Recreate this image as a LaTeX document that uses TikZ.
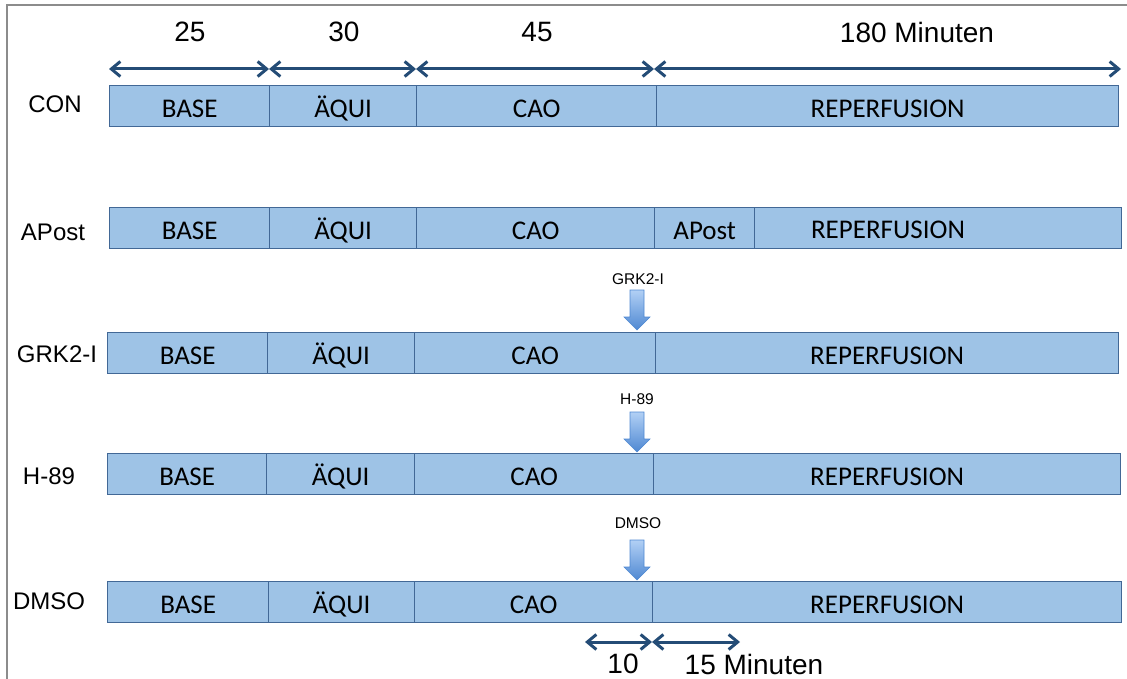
\documentclass[tikz,border=0pt]{standalone}
\usepackage{fontspec}
\setmainfont{Liberation Sans}
\newfontfamily\boxfont{Carlito}
\usetikzlibrary{arrows.meta}
\definecolor{segfill}{RGB}{158,195,230}
\definecolor{segline}{RGB}{66,104,150}
\definecolor{spanblue}{RGB}{36,76,118}
\definecolor{druglight}{RGB}{178,208,245}
\definecolor{drugdark}{RGB}{78,136,210}
\definecolor{framegray}{RGB}{140,140,140}
\begin{document}
\begin{tikzpicture}[x=1pt,y=-1pt,
  seg/.style={draw=segline, fill=segfill, line width=1.3pt, minimum height=41pt,
    inner sep=0pt, anchor=north west, text height=23pt, text depth=0pt,
    font=\boxfont\fontsize{27}{32}\selectfont},
  segtext/.style={inner sep=0pt, anchor=base, font=\boxfont\fontsize{27}{32}\selectfont},
  rowlabel/.style={inner sep=0pt, font=\fontsize{24}{28}\selectfont},
  spanlabel/.style={inner sep=0pt, font=\fontsize{28}{32}\selectfont},
  druglabel/.style={inner sep=0pt, font=\fontsize{15.5}{18}\selectfont},
  spanarrow/.style={spanblue, line width=3pt,
    {Straight Barb[length=9pt,width=15pt]}-{Straight Barb[length=9pt,width=15pt]}},
  drugarrow/.pic={
    \shade[top color=druglight, bottom color=drugdark, draw=drugdark, line width=0.6pt]
      (-7,-40) -- (7,-40) -- (7,-13) -- (13,-13) -- (0,0) -- (-13,-13) -- (-7,-13) -- cycle;
  }]
\useasboundingbox (0,0) rectangle (1127,679);

% frame
\draw[framegray, line width=2pt] (6.5,679) -- (6.5,5.5) -- (1127,5.5);

% time spans on top
\coordinate (t0) at (109,69);
\coordinate (t1) at (269,69);
\coordinate (t2) at (416,69);
\coordinate (t3) at (654,69);
\coordinate (t4) at (1121,69);
\draw[spanarrow] (t0) -- (t1);
\draw[spanarrow] (t1) -- (t2);
\draw[spanarrow] (t2) -- (t3);
\draw[spanarrow] (t3) -- (t4);
\node[spanlabel] (l25) at (190,32) {25};
\node[spanlabel] (l30) at (344,32) {30};
\node[spanlabel] (l45) at (537,32) {45};
\node[spanlabel] (l180) at (917,32) {180 Minuten};

% CON
\node[rowlabel] (lab-con) at (55,104) {CON};
\node[seg, minimum width=160pt] (con-base) at (109,85) {BASE};
\node[seg, minimum width=147pt] (con-aequi) at (269,85) {ÄQUI};
\node[seg, minimum width=240pt] (con-cao) at (416,85) {CAO};
\node[seg, minimum width=462pt] (con-rep) at (656,85) {REPERFUSION};

% APost
\node[rowlabel] (lab-apost) at (53,232) {APost};
\node[seg, minimum width=160pt] (ap-base) at (109,207) {BASE};
\node[seg, minimum width=147pt] (ap-aequi) at (269,207) {ÄQUI};
\node[seg, minimum width=238pt] (ap-cao) at (416,207) {CAO};
\node[seg, minimum width=100pt] (ap-apost) at (654,207) {APost};
\node[seg, minimum width=367pt] (ap-rep) at (754,207) {};
\node[segtext] (ap-rep-text) at (888,239) {REPERFUSION};

% GRK2-I
\node[rowlabel] (lab-grk) at (57,354) {GRK2-I};
\node[seg, minimum width=160pt] (grk-base) at (107,332) {BASE};
\node[seg, minimum width=147pt] (grk-aequi) at (267,332) {ÄQUI};
\node[seg, minimum width=241pt] (grk-cao) at (414,332) {CAO};
\node[seg, minimum width=463pt] (grk-rep) at (655,332) {REPERFUSION};
\node[druglabel] (drug-grk) at (638,279) {GRK2-I};
\pic at (637,330) {drugarrow};

% H-89
\node[rowlabel] (lab-h89) at (49,476) {H-89};
\node[seg, minimum width=159pt] (h-base) at (107,453) {BASE};
\node[seg, minimum width=148pt] (h-aequi) at (266,453) {ÄQUI};
\node[seg, minimum width=239pt] (h-cao) at (414,453) {CAO};
\node[seg, minimum width=467pt] (h-rep) at (653,453) {REPERFUSION};
\node[druglabel] (drug-h89) at (637,399) {H-89};
\pic at (637,452) {drugarrow};

% DMSO
\node[rowlabel] (lab-dmso) at (49,601) {DMSO};
\node[seg, minimum width=161pt] (d-base) at (107,581) {BASE};
\node[seg, minimum width=146pt] (d-aequi) at (268,581) {ÄQUI};
\node[seg, minimum width=238pt] (d-cao) at (414,581) {CAO};
\node[seg, minimum width=469pt] (d-rep) at (652,581) {REPERFUSION};
\node[druglabel] (drug-dmso) at (638,523) {DMSO};
\pic at (637,580) {drugarrow};

% time spans below
\coordinate (b0) at (585,642);
\coordinate (b1) at (652,642);
\coordinate (b2) at (740,642);
\draw[spanarrow] (b0) -- (b1);
\draw[spanarrow] (b1) -- (b2);
\node[spanlabel] (l10) at (623,664) {10};
\node[spanlabel] (l15) at (754,664) {15 Minuten};
\end{tikzpicture}
\end{document}
